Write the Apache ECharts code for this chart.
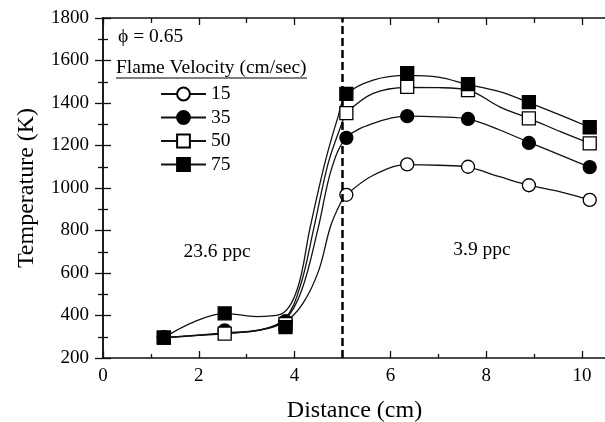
<!DOCTYPE html>
<html><head><meta charset="utf-8">
<script src="https://cdn.jsdelivr.net/npm/echarts@6/dist/echarts.min.js"></script>
<style>html,body{margin:0;padding:0;background:#fff}#c{width:605px;height:422px}</style>
</head><body><div id="c"></div>
<script>
// measured positions (cm)
const distances = [1.27, 2.54, 3.81, 5.08, 6.35, 7.62, 8.89, 10.16];
const temp15 = [296, 318, 365, 968, 1111, 1100, 1013, 944];
const temp35 = [298, 330, 373, 1236, 1338, 1325, 1212, 1098];
const temp50 = [296, 315, 360, 1352, 1476, 1461, 1328, 1210];
const temp75 = [296, 410, 345, 1443, 1540, 1489, 1404, 1286];
// fitted curves as drawn in the figure: [distance, temperature]
const curve15 = [[1.27,296],[2.54,315],[3.3,332],[3.8,370],[4.17,456],[4.5,610],[4.75,820],[4.95,925],[5.08,968],[5.64,1060],[6.35,1110],[7.0,1107],[7.62,1098],[8.28,1053],[8.89,1013],[9.55,982],[10.16,944]];
const curve35 = [[1.27,296],[2.54,318],[3.3,334],[3.8,380],[4.15,520],[4.49,810],[4.77,1090],[5.08,1236],[5.64,1304],[6.35,1338],[7.0,1335],[7.62,1325],[8.28,1273],[8.89,1215],[9.55,1155],[10.16,1098]];
const curve50 = [[1.27,296],[2.54,316],[3.3,332],[3.8,385],[4.12,540],[4.4,810],[4.7,1116],[4.98,1300],[5.08,1352],[5.64,1445],[6.35,1473],[7.0,1472],[7.62,1461],[8.28,1382],[8.89,1328],[9.55,1265],[10.16,1210]];
const curve75 = [[1.27,296],[1.9,370],[2.54,410],[3.2,395],[3.7,405],[4.05,520],[4.32,810],[4.63,1116],[4.9,1330],[5.08,1440],[5.64,1508],[6.35,1530],[7.0,1522],[7.62,1487],[8.28,1453],[8.89,1402],[9.55,1343],[10.16,1286]];
const seriesNames = ['15', '35', '50', '75'];
const xMajor = [0, 2, 4, 6, 8, 10];
const xMinor = [1, 3, 5, 7, 9];
const boundary = 5;

const FONT = "'Liberation Serif','Times New Roman',serif";
const ink = '#111';
const styles = [
  {symbol: 'circle', fill: '#fff'},
  {symbol: 'circle', fill: '#000'},
  {symbol: 'rect', fill: '#fff'},
  {symbol: 'rect', fill: '#000'}
];
const temps = [temp15, temp35, temp50, temp75];
const curves = [curve15, curve35, curve50, curve75];

const chart = echarts.init(document.getElementById('c'), null, {renderer: 'canvas'});
const series = [];
curves.forEach((c, i) => {
  series.push({
    name: seriesNames[i], type: 'line', xAxisIndex: 0, yAxisIndex: 0,
    data: c, smooth: 0.35, showSymbol: false,
    symbol: styles[i].symbol, symbolSize: 13,
    itemStyle: {color: styles[i].fill, borderColor: '#000', borderWidth: 1.3},
    lineStyle: {color: ink, width: 1.3}, silent: true, z: 2
  });
});
temps.forEach((t, i) => {
  series.push({
    name: seriesNames[i] + ' data', type: 'scatter', xAxisIndex: 0, yAxisIndex: 0,
    data: distances.map((d, k) => [d, t[k]]),
    symbol: styles[i].symbol, symbolSize: 13,
    itemStyle: {color: styles[i].fill, borderColor: '#000', borderWidth: 1.3, opacity: 1},
    z: 3 + i
  });
});
series.push({
  type: 'line', data: [], xAxisIndex: 0, yAxisIndex: 0,
  markLine: {silent: true, symbol: 'none', label: {show: false},
    lineStyle: {type: [8, 4], width: 2.5, color: '#000'},
    data: [{xAxis: boundary}]}
});

const axisLine = {show: true, lineStyle: {color: ink, width: 1.5}};
chart.setOption({
  animation: false,
  backgroundColor: '#fff',
  grid: {left: 103, top: 18, width: 503, height: 340, outerBoundsMode: 'none', containLabel: false},
  legend: {
    data: seriesNames, orient: 'vertical', left: 155, top: 79,
    itemWidth: 45, itemHeight: 16, itemGap: 3.5,
    textStyle: {fontFamily: FONT, fontSize: 19.5, color: '#000'},
    selectedMode: false
  },
  xAxis: [
    {type: 'value', min: 0, max: 10.5, position: 'bottom',
     name: 'Distance (cm)', nameLocation: 'middle', nameGap: 41,
     nameTextStyle: {fontFamily: FONT, fontSize: 24, color: '#000'},
     axisLine: axisLine, splitLine: {show: false},
     axisTick: {inside: true, length: 7, customValues: xMajor, lineStyle: {color: ink, width: 1.3}},
     axisLabel: {customValues: xMajor, margin: 9, fontFamily: FONT, fontSize: 19, color: '#000'}},
    {type: 'value', min: 0, max: 10.5, position: 'bottom',
     axisLine: {show: false}, splitLine: {show: false}, axisLabel: {show: false},
     axisTick: {inside: true, length: 4, customValues: xMinor, lineStyle: {color: ink, width: 1.3}}},
    {type: 'value', min: 0, max: 10.5, position: 'top',
     axisLine: axisLine, splitLine: {show: false}, axisLabel: {show: false},
     axisTick: {inside: true, length: 7, customValues: xMajor, lineStyle: {color: ink, width: 1.3}}},
    {type: 'value', min: 0, max: 10.5, position: 'top',
     axisLine: {show: false}, splitLine: {show: false}, axisLabel: {show: false},
     axisTick: {inside: true, length: 5, customValues: xMinor, lineStyle: {color: ink, width: 1.3}}}
  ],
  yAxis: [
    {type: 'value', min: 200, max: 1800, interval: 200, position: 'left',
     name: 'Temperature (K)', nameLocation: 'middle', nameGap: 64,
     nameTextStyle: {fontFamily: FONT, fontSize: 24, color: '#000'},
     axisLine: axisLine, splitLine: {show: false},
     axisTick: {inside: true, length: 8, lineStyle: {color: ink, width: 1.3}},
     minorTick: {show: true, splitNumber: 2, length: 5, lineStyle: {color: ink, width: 1.3}},
     axisLabel: {margin: 14, fontFamily: FONT, fontSize: 19, color: '#000', formatter: v => String(v)}},
    {type: 'value', min: 200, max: 1800, interval: 200, position: 'right',
     axisLine: axisLine, splitLine: {show: false}, axisLabel: {show: false},
     axisTick: {inside: true, length: 8, lineStyle: {color: ink, width: 1.3}},
     minorTick: {show: true, splitNumber: 2, length: 5, lineStyle: {color: ink, width: 1.3}}}
  ],
  graphic: [
    {type: 'text', left: 118, top: 27, style: {text: '\u03D5 = 0.65', font: '19.5px ' + FONT, fill: '#000'}},
    {type: 'text', left: 116, top: 58, style: {text: 'Flame Velocity (cm/sec)', font: '19.5px ' + FONT, fill: '#000'}},
    {type: 'line', shape: {x1: 116, y1: 78, x2: 307, y2: 78}, style: {stroke: '#000', lineWidth: 1.2}},
    {type: 'text', x: 217, y: 252, style: {text: '23.6 ppc', font: '19.5px ' + FONT, fill: '#000', align: 'center', verticalAlign: 'middle'}},
    {type: 'text', x: 482, y: 250, style: {text: '3.9 ppc', font: '19.5px ' + FONT, fill: '#000', align: 'center', verticalAlign: 'middle'}}
  ],
  series: series
});
</script>
</body></html>
